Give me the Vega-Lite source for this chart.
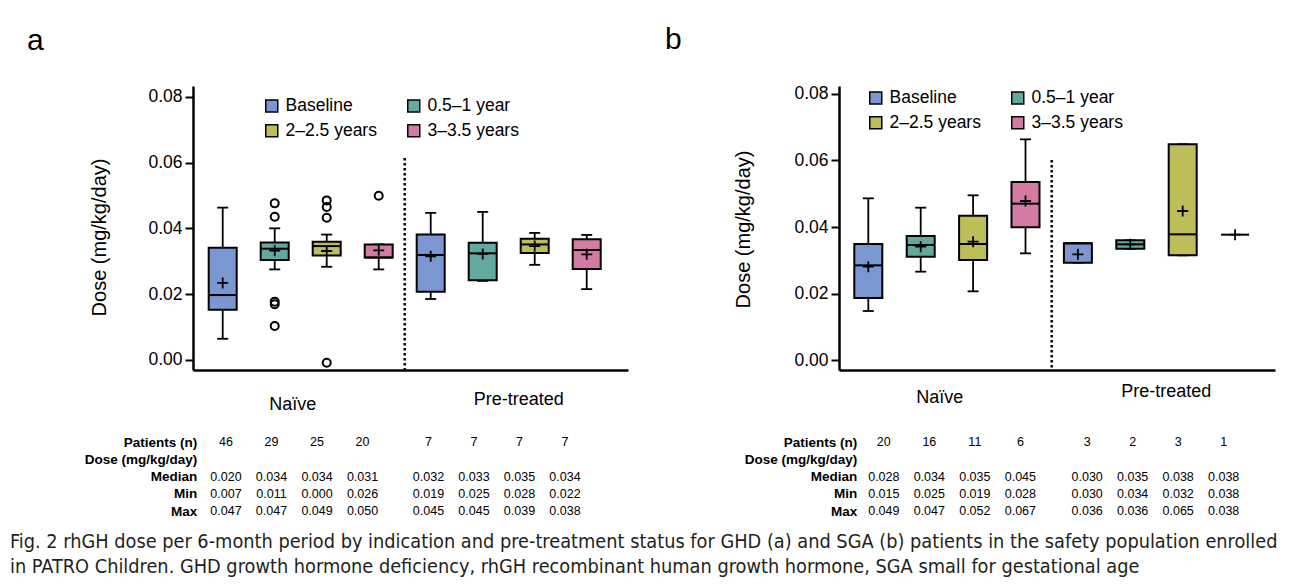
{
  "$schema": "https://vega.github.io/schema/vega-lite/v6.json",
  "background": "white",
  "padding": {"left": 10, "top": 24, "right": 5, "bottom": 5},
  "datasets": {
    "boxes": [
      {"panel":"a","slot":"N1","group":"Naïve","period":"Baseline","lo":0.0064,"q1":0.0152,"med":0.0197,"q3":0.0341,"hi":0.0463,"mean":0.0234,"n":"46","Median":"0.020","Min":"0.007","Max":"0.047"},
      {"panel":"a","slot":"N2","group":"Naïve","period":"0.5–1 year","lo":0.0275,"q1":0.0304,"med":0.0338,"q3":0.0357,"hi":0.0400,"mean":0.0332,"n":"29","Median":"0.034","Min":"0.011","Max":"0.047"},
      {"panel":"a","slot":"N3","group":"Naïve","period":"2–2.5 years","lo":0.0283,"q1":0.0317,"med":0.0346,"q3":0.0359,"hi":0.0381,"mean":0.0331,"n":"25","Median":"0.034","Min":"0.000","Max":"0.049"},
      {"panel":"a","slot":"N4","group":"Naïve","period":"3–3.5 years","lo":0.0275,"q1":0.0311,"med":0.0311,"q3":0.0351,"hi":0.0351,"mean":0.0333,"n":"20","Median":"0.031","Min":"0.026","Max":"0.050"},
      {"panel":"a","slot":"P1","group":"Pre-treated","period":"Baseline","lo":0.0185,"q1":0.0207,"med":0.0319,"q3":0.0381,"hi":0.0447,"mean":0.0315,"n":"7","Median":"0.032","Min":"0.019","Max":"0.045"},
      {"panel":"a","slot":"P2","group":"Pre-treated","period":"0.5–1 year","lo":0.0240,"q1":0.0242,"med":0.0324,"q3":0.0356,"hi":0.0450,"mean":0.0322,"n":"7","Median":"0.033","Min":"0.025","Max":"0.045"},
      {"panel":"a","slot":"P3","group":"Pre-treated","period":"2–2.5 years","lo":0.0289,"q1":0.0325,"med":0.0351,"q3":0.0368,"hi":0.0386,"mean":0.0346,"n":"7","Median":"0.035","Min":"0.028","Max":"0.039"},
      {"panel":"a","slot":"P4","group":"Pre-treated","period":"3–3.5 years","lo":0.0215,"q1":0.0276,"med":0.0334,"q3":0.0367,"hi":0.0380,"mean":0.0321,"n":"7","Median":"0.034","Min":"0.022","Max":"0.038"},
      {"panel":"b","slot":"N1","group":"Naïve","period":"Baseline","lo":0.0148,"q1":0.0187,"med":0.0285,"q3":0.0349,"hi":0.0486,"mean":0.0281,"n":"20","Median":"0.028","Min":"0.015","Max":"0.049"},
      {"panel":"b","slot":"N2","group":"Naïve","period":"0.5–1 year","lo":0.0266,"q1":0.0311,"med":0.0346,"q3":0.0373,"hi":0.0458,"mean":0.0341,"n":"16","Median":"0.034","Min":"0.025","Max":"0.047"},
      {"panel":"b","slot":"N3","group":"Naïve","period":"2–2.5 years","lo":0.0207,"q1":0.0301,"med":0.0349,"q3":0.0434,"hi":0.0495,"mean":0.0356,"n":"11","Median":"0.035","Min":"0.019","Max":"0.052"},
      {"panel":"b","slot":"N4","group":"Naïve","period":"3–3.5 years","lo":0.0321,"q1":0.0399,"med":0.0470,"q3":0.0535,"hi":0.0663,"mean":0.0478,"n":"6","Median":"0.045","Min":"0.028","Max":"0.067"},
      {"panel":"b","slot":"P1","group":"Pre-treated","period":"Baseline","lo":0.0293,"q1":0.0293,"med":0.0351,"q3":0.0351,"hi":0.0351,"mean":0.0318,"n":"3","Median":"0.030","Min":"0.030","Max":"0.036"},
      {"panel":"b","slot":"P2","group":"Pre-treated","period":"0.5–1 year","lo":0.0335,"q1":0.0335,"med":0.0348,"q3":0.0360,"hi":0.0360,"mean":0.0348,"n":"2","Median":"0.035","Min":"0.034","Max":"0.036"},
      {"panel":"b","slot":"P3","group":"Pre-treated","period":"2–2.5 years","lo":0.0315,"q1":0.0315,"med":0.0378,"q3":0.0648,"hi":0.0648,"mean":0.0448,"n":"3","Median":"0.038","Min":"0.032","Max":"0.065"},
      {"panel":"b","slot":"P4","group":"Pre-treated","period":"3–3.5 years","lo":null,"q1":null,"med":0.0377,"q3":null,"hi":null,"mean":0.0377,"n":"1","Median":"0.038","Min":"0.038","Max":"0.038"}
    ],
    "outliers": [
      {"panel":"a","slot":"N2","value":0.0476},
      {"panel":"a","slot":"N2","value":0.0435},
      {"panel":"a","slot":"N2","value":0.0177},
      {"panel":"a","slot":"N2","value":0.0169},
      {"panel":"a","slot":"N2","value":0.0103},
      {"panel":"a","slot":"N3","value":0.0485},
      {"panel":"a","slot":"N3","value":0.0465},
      {"panel":"a","slot":"N3","value":0.0432},
      {"panel":"a","slot":"N3","value":-0.0009},
      {"panel":"a","slot":"N4","value":0.0499}
    ]
  },
  "title": {
    "text": ["Fig. 2 rhGH dose per 6-month period by indication and pre-treatment status for GHD (a) and SGA (b) patients in the safety population enrolled", "in PATRO Children. GHD growth hormone deficiency, rhGH recombinant human growth hormone, SGA small for gestational age"],
    "orient": "bottom", "anchor": "start", "frame": "group", "dx": -183, "offset": 14,
    "font": "DejaVu Sans Condensed", "fontSize": 19.75, "fontWeight": "normal", "color": "#231f20", "lineHeight": 25
  },
  "config": {
    "view": {"stroke": null},
    "font": "Liberation Sans",
    "title": {"font": "Liberation Sans"}
  },
  "columns": 2,
  "bounds": "flush",
  "spacing": {"row": 72, "column": 211},
  "resolve": {"scale": {"color": "independent"}, "legend": {"color": "independent"}},
  "concat": [
    {
      "width": 435, "height": 284,
      "title": {"text": "a", "anchor": "start", "frame": "group", "dx": -166, "offset": 6, "baseline": "alphabetic", "fontSize": 30, "fontWeight": "normal", "color": "black"},
      "data": {"name": "boxes"},
      "transform": [{"filter": "datum.panel == 'a'"}],
      "encoding": {
        "x": {"field": "slot", "type": "nominal",
          "scale": {"domain": ["N1","N2","N3","N4","P1","P2","P3","P4"], "paddingInner": 0, "paddingOuter": 0.1827, "align": 0.195},
          "axis": {"title": null, "domainColor": "black", "domainWidth": 2.5, "ticks": false, "tickSize": 0, "labelAngle": 0, "labelOverlap": false, "labelFontSize": 18, "labelColor": "black", "labelBaseline": "alphabetic",
            "labelExpr": "datum.value == 'N2' ? 'Naïve' : datum.value == 'P2' ? 'Pre-treated' : ''",
            "labelOffset": {"condition": {"test": "datum.value == 'N2'", "value": 18}, "value": 36},
            "labelPadding": {"condition": {"test": "datum.value == 'N2'", "value": 39}, "value": 34}}}
      },
      "layer": [
        {"mark": {"type": "rule", "color": "black", "strokeWidth": 1.8},
         "encoding": {"y": {"field": "lo", "type": "quantitative", "title": "Dose (mg/kg/day)", "scale": {"domain": [-0.0031, 0.0833], "nice": false, "zero": false},
            "axis": {"values": [0, 0.02, 0.04, 0.06, 0.08], "format": ".2f", "grid": false, "tickSize": 8, "tickWidth": 2, "tickColor": "black", "domainColor": "black", "domainWidth": 2.5, "labelFontSize": 17.5, "labelColor": "black", "labelPadding": 3, "titleFontSize": 20, "titleFontWeight": "normal", "titleColor": "black", "titlePadding": 38, "titleY": 151}},
           "y2": {"field": "hi"}}},
        {"mark": {"type": "tick", "orient": "horizontal", "size": 11, "thickness": 1.8, "color": "black", "opacity": 1},
         "encoding": {"y": {"field": "lo", "type": "quantitative", "title": "Dose (mg/kg/day)"}}},
        {"mark": {"type": "tick", "orient": "horizontal", "size": 11, "thickness": 1.8, "color": "black", "opacity": 1},
         "encoding": {"y": {"field": "hi", "type": "quantitative", "title": "Dose (mg/kg/day)"}}},
        {"mark": {"type": "bar", "size": 28, "stroke": "black", "strokeWidth": 2, "opacity": 1},
         "encoding": {"y": {"field": "q1", "type": "quantitative", "title": "Dose (mg/kg/day)"}, "y2": {"field": "q3"},
           "color": {"field": "period", "type": "nominal",
             "scale": {"domain": ["Baseline","2–2.5 years","0.5–1 year","3–3.5 years"], "range": ["#7b97d2","#bdbe58","#62aaa0","#d37ba4"]},
             "legend": {"orient": "none", "legendX": 70, "legendY": 11, "columns": 2, "title": null, "symbolType": "square", "symbolSize": 144, "symbolStrokeColor": "black", "symbolStrokeWidth": 1.5, "symbolOpacity": 1, "labelFont": "Liberation Sans", "labelFontSize": 17.5, "labelColor": "black", "labelOffset": 5, "columnPadding": 27, "rowPadding": 6, "padding": 0, "labelLimit": 300}}}},
        {"mark": {"type": "tick", "orient": "horizontal", "size": 28, "thickness": 2, "color": "black", "opacity": 1},
         "encoding": {"y": {"field": "med", "type": "quantitative", "title": "Dose (mg/kg/day)"}}},
        {"mark": {"type": "point", "shape": "M-1,0H1M0,-1V1", "size": 121, "filled": false, "stroke": "black", "strokeWidth": 1.8, "opacity": 1},
         "encoding": {"y": {"field": "mean", "type": "quantitative", "title": "Dose (mg/kg/day)"}}},
        {"data": {"name": "outliers"}, "transform": [{"filter": "datum.panel == 'a'"}],
         "mark": {"type": "point", "shape": "circle", "size": 64, "filled": false, "stroke": "black", "strokeWidth": 2, "opacity": 1},
         "encoding": {"y": {"field": "value", "type": "quantitative", "title": "Dose (mg/kg/day)"}}},
        {"data": {"values": [{"divider": "Naïve | Pre-treated"}]},
         "mark": {"type": "rule", "color": "black", "strokeWidth": 2.5, "strokeDash": [2.5, 2.5]},
         "encoding": {"x": {"datum": "P1", "bandPosition": 0}, "y": {"datum": 0.0614}, "y2": {"datum": -0.0031}}}
      ]
    },
    {
      "width": 436, "height": 284,
      "title": {"text": "b", "anchor": "start", "frame": "group", "dx": -174, "offset": 6, "baseline": "alphabetic", "fontSize": 30, "fontWeight": "normal", "color": "black"},
      "data": {"name": "boxes"},
      "transform": [{"filter": "datum.panel == 'b'"}],
      "encoding": {
        "x": {"field": "slot", "type": "nominal",
          "scale": {"domain": ["N1","N2","N3","N4","P1","P2","P3","P4"], "paddingInner": 0, "paddingOuter": 0.1605, "align": 0.185},
          "axis": {"title": null, "domainColor": "black", "domainWidth": 2.5, "ticks": false, "tickSize": 0, "labelAngle": 0, "labelOverlap": false, "labelFontSize": 18, "labelColor": "black", "labelBaseline": "alphabetic",
            "labelExpr": "datum.value == 'N2' ? 'Naïve' : datum.value == 'P2' ? 'Pre-treated' : ''",
            "labelOffset": {"condition": {"test": "datum.value == 'N2'", "value": 19}, "value": 36},
            "labelPadding": {"condition": {"test": "datum.value == 'N2'", "value": 32}, "value": 26}}}
      },
      "layer": [
        {"mark": {"type": "rule", "color": "black", "strokeWidth": 1.8},
         "encoding": {"y": {"field": "lo", "type": "quantitative", "title": "Dose (mg/kg/day)", "scale": {"domain": [-0.0029, 0.0823], "nice": false, "zero": false},
            "axis": {"values": [0, 0.02, 0.04, 0.06, 0.08], "format": ".2f", "grid": false, "tickSize": 8, "tickWidth": 2, "tickColor": "black", "domainColor": "black", "domainWidth": 2.5, "labelFontSize": 17.5, "labelColor": "black", "labelPadding": 3, "titleFontSize": 20, "titleFontWeight": "normal", "titleColor": "black", "titlePadding": 40, "titleY": 143}},
           "y2": {"field": "hi"}}},
        {"mark": {"type": "tick", "orient": "horizontal", "size": 11, "thickness": 1.8, "color": "black", "opacity": 1},
         "encoding": {"y": {"field": "lo", "type": "quantitative", "title": "Dose (mg/kg/day)"}}},
        {"mark": {"type": "tick", "orient": "horizontal", "size": 11, "thickness": 1.8, "color": "black", "opacity": 1},
         "encoding": {"y": {"field": "hi", "type": "quantitative", "title": "Dose (mg/kg/day)"}}},
        {"mark": {"type": "bar", "size": 28, "stroke": "black", "strokeWidth": 2, "opacity": 1},
         "encoding": {"y": {"field": "q1", "type": "quantitative", "title": "Dose (mg/kg/day)"}, "y2": {"field": "q3"},
           "color": {"field": "period", "type": "nominal",
             "scale": {"domain": ["Baseline","2–2.5 years","0.5–1 year","3–3.5 years"], "range": ["#7b97d2","#bdbe58","#62aaa0","#d37ba4"]},
             "legend": {"orient": "none", "legendX": 28, "legendY": 3, "columns": 2, "title": null, "symbolType": "square", "symbolSize": 144, "symbolStrokeColor": "black", "symbolStrokeWidth": 1.5, "symbolOpacity": 1, "labelFont": "Liberation Sans", "labelFontSize": 17.5, "labelColor": "black", "labelOffset": 5, "columnPadding": 27, "rowPadding": 6, "padding": 0, "labelLimit": 300}}}},
        {"mark": {"type": "tick", "orient": "horizontal", "size": 28, "thickness": 2, "color": "black", "opacity": 1},
         "encoding": {"y": {"field": "med", "type": "quantitative", "title": "Dose (mg/kg/day)"}}},
        {"mark": {"type": "point", "shape": "M-1,0H1M0,-1V1", "size": 121, "filled": false, "stroke": "black", "strokeWidth": 1.8, "opacity": 1},
         "encoding": {"y": {"field": "mean", "type": "quantitative", "title": "Dose (mg/kg/day)"}}},
        {"data": {"values": [{"divider": "Naïve | Pre-treated"}]},
         "mark": {"type": "rule", "color": "black", "strokeWidth": 2.5, "strokeDash": [2.5, 2.5]},
         "encoding": {"x": {"datum": "P1", "bandPosition": 0}, "y": {"datum": 0.0601}, "y2": {"datum": -0.0029}}}
      ]
    },
    {
      "width": 435, "height": 69,
      "data": {"name": "boxes"},
      "transform": [{"filter": "datum.panel == 'a'"}, {"fold": ["n", "Median", "Min", "Max"], "as": ["row", "txt"]}],
      "mark": {"type": "text", "fontSize": 12.5, "color": "black", "baseline": "middle"},
      "encoding": {
        "x": {"field": "group", "type": "nominal", "scale": {"domain": ["Naïve", "Pre-treated"], "paddingInner": 0.101, "paddingOuter": 0.1247, "align": 0.203}, "axis": null},
        "xOffset": {"field": "period", "type": "nominal", "scale": {"type": "point", "domain": ["Baseline","0.5–1 year","2–2.5 years","3–3.5 years"], "padding": 0.5}},
        "y": {"field": "row", "type": "nominal", "scale": {"type": "point", "domain": ["n", "Dose", "Median", "Min", "Max"], "padding": 0},
          "axis": {"title": null, "domain": false, "ticks": false, "tickSize": 0, "labelFontWeight": "bold", "labelFontSize": 13.5, "labelColor": "black", "labelPadding": -3.7, "labelBaseline": "middle", "labelLimit": 300,
            "labelExpr": "datum.value == 'n' ? 'Patients (n)' : datum.value == 'Dose' ? 'Dose (mg/kg/day)' : datum.value"}},
        "text": {"field": "txt"}
      }
    },
    {
      "width": 436, "height": 69,
      "data": {"name": "boxes"},
      "transform": [{"filter": "datum.panel == 'b'"}, {"fold": ["n", "Median", "Min", "Max"], "as": ["row", "txt"]}],
      "mark": {"type": "text", "fontSize": 12.5, "color": "black", "baseline": "middle"},
      "encoding": {
        "x": {"field": "group", "type": "nominal", "scale": {"domain": ["Naïve", "Pre-treated"], "paddingInner": 0.099, "paddingOuter": 0.1217, "align": 0.446}, "axis": null},
        "xOffset": {"field": "period", "type": "nominal", "scale": {"type": "point", "domain": ["Baseline","0.5–1 year","2–2.5 years","3–3.5 years"], "padding": 0.5}},
        "y": {"field": "row", "type": "nominal", "scale": {"type": "point", "domain": ["n", "Dose", "Median", "Min", "Max"], "padding": 0},
          "axis": {"title": null, "domain": false, "ticks": false, "tickSize": 0, "labelFontWeight": "bold", "labelFontSize": 13.5, "labelColor": "black", "labelPadding": -17.7, "labelBaseline": "middle", "labelLimit": 300,
            "labelExpr": "datum.value == 'n' ? 'Patients (n)' : datum.value == 'Dose' ? 'Dose (mg/kg/day)' : datum.value"}},
        "text": {"field": "txt"}
      }
    }
  ]
}
